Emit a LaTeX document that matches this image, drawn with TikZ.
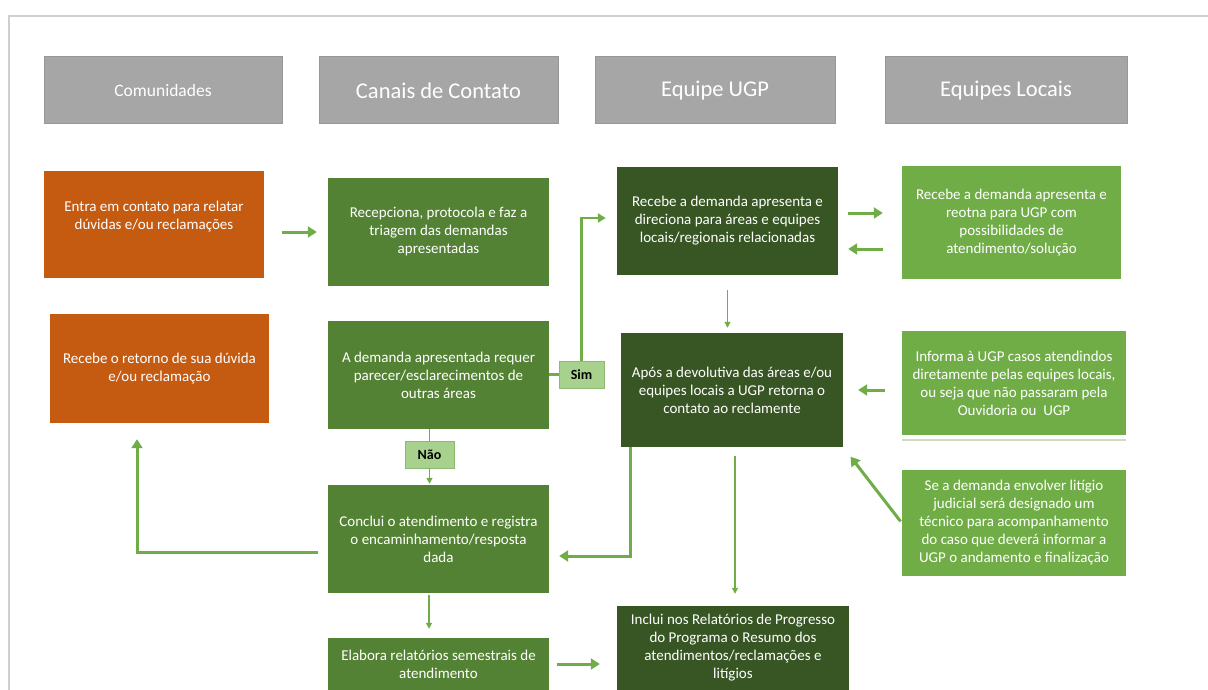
\documentclass[tikz,border=0pt]{standalone}
\usepackage{fontspec}
\setmainfont{Carlito}
\usetikzlibrary{arrows.meta}
\definecolor{orng}{HTML}{C55A11}
\definecolor{midg}{HTML}{548235}
\definecolor{darkg}{HTML}{375623}
\definecolor{lightg}{HTML}{70AD47}
\definecolor{arrg}{HTML}{70AD47}
\definecolor{hgray}{HTML}{A6A6A6}
\definecolor{hgrayd}{HTML}{979797}
\definecolor{lblg}{HTML}{A9D18E}
\definecolor{lblgd}{HTML}{8DB971}
\definecolor{framec}{HTML}{CFCFCF}
\definecolor{shadowc}{HTML}{CCDDC2}
\newcommand\boxfont{\fontsize{15}{18}\selectfont}
\newcommand\hdrbig{\fontsize{22.5}{26}\selectfont}
\newcommand\hdrsmall{\fontsize{17.5}{21}\selectfont}
\tikzset{
  box/.style={rectangle, text=white, align=center, font=\boxfont, inner sep=2pt},
  txt/.style={text=white, align=center, font=\boxfont, inner sep=0pt},
  hdr/.style={rectangle, fill=hgray, draw=hgrayd, line width=1pt, text=white, minimum height=67, font=\hdrbig},
  lbl/.style={rectangle, fill=lblg, draw=lblgd, line width=0.8pt, text=black, font=\fontsize{14}{16}\selectfont\bfseries},
  arr/.style={draw=arrg, line width=3pt, -{Triangle[length=9pt,width=11pt]}},
  marr/.style={draw=arrg, line width=2.2pt, -{Triangle[length=8pt,width=9pt]}},
  tarr/.style={draw=arrg, line width=1.5pt, -{Triangle[length=6pt,width=6pt]}},
  tline/.style={draw=arrg, line width=1.5pt},
  mline/.style={draw=arrg, line width=2.2pt},
}
\begin{document}
\begin{tikzpicture}[x=1pt,y=-1pt]
\useasboundingbox (0,0) rectangle (1208,690);
\fill[white] (0,0) rectangle (1208,690);
\draw[framec, line width=1.2pt] (9,690) -- (9,16) -- (1208,16);

% headers
\node[hdr, minimum width=238, font=\hdrsmall] (hC) at (163,90.5) {Comunidades};
\node[hdr, minimum width=239] (hK) at (438.5,90.5) {Canais de Contato};
\node[hdr, minimum width=240] (hU) at (715,90.5) {Equipe UGP};
\node[hdr, minimum width=242] (hL) at (1006,90.5) {Equipes Locais};

% column 1
\node[box, fill=orng, minimum width=220, minimum height=107] (o1) at (154,224.5) {};
\node[txt] (o1t) at (154,217) {Entra em contato para relatar\\dúvidas e/ou reclamações};
\node[box, fill=orng, minimum width=219, minimum height=109] (o2) at (159.5,368.5) {Recebe o retorno de sua dúvida\\e/ou reclamação};

% column 2
\node[box, fill=midg, minimum width=221, minimum height=108] (g1) at (438.5,232) {Recepciona, protocola e faz a\\triagem das demandas\\apresentadas};
\node[box, fill=midg, minimum width=221, minimum height=108] (g2) at (438.5,375) {A demanda apresentada requer\\parecer/esclarecimentos de\\outras áreas};
\node[box, fill=midg, minimum width=221, minimum height=108] (g3) at (438.5,539) {Conclui o atendimento e registra\\o encaminhamento/resposta\\dada};
\node[box, fill=midg, minimum width=221, minimum height=52] (g4) at (438.5,664) {Elabora relatórios semestrais de\\atendimento};

% column 3
\node[box, fill=darkg, minimum width=221, minimum height=108] (dg1) at (727.5,221) {Recebe a demanda apresenta e\\direciona para áreas e equipes\\locais/regionais relacionadas};
\node[box, fill=darkg, minimum width=222, minimum height=114] (dg2) at (732,390) {Após a devolutiva das áreas e/ou\\equipes locais a UGP retorna o\\contato ao reclamente};
\node[box, fill=darkg, minimum width=232, minimum height=84] (dg3) at (733,648) {Inclui nos Relatórios de Progresso\\do Programa o Resumo dos\\atendimentos/reclamações e\\litígios};

% column 4
\node[box, fill=lightg, minimum width=219, minimum height=113] (lg1) at (1011.5,222.5) {Recebe a demanda apresenta e\\reotna para UGP com\\possibilidades de\\atendimento/solução};
\node[box, fill=lightg, minimum width=224, minimum height=104] (lg2) at (1014,383) {Informa à UGP casos atendindos\\diretamente pelas equipes locais,\\ou seja que não passaram pela\\Ouvidoria ou\ \ UGP};
\draw[shadowc, line width=1.5pt] ([yshift=-5pt]lg2.south west) -- ([yshift=-5pt]lg2.south east);
\node[box, fill=lightg, minimum width=224, minimum height=106] (lg3) at (1014,523) {Se a demanda envolver litígio\\judicial será designado um\\técnico para acompanhamento\\do caso que deverá informar a\\UGP o andamento e finalização};

% labels
\node[lbl, minimum width=45, minimum height=27] (sim) at (581.5,374.5) {Sim};
\node[lbl, minimum width=49, minimum height=27] (nao) at (429.5,454.5) {Não};

% connectors
\draw[arr, shorten <=18pt, shorten >=11pt] (o1.east |- g1.west) -- (g1.west);
\draw[mline] (g2.east |- sim.west) -- (sim.west);
\draw[marr, shorten >=11pt] (sim.north) |- ([yshift=3pt]dg1.west);
\draw[tline] ([xshift=-9pt]g2.south) -- (nao.north);
\draw[tarr, shorten >=1pt] (nao.south) -- (nao.south |- g3.north);
\draw[arr, shorten <=10pt, shorten >=19pt] ([yshift=8pt]dg1.east) -- ([yshift=8pt]dg1.east -| lg1.west);
\draw[arr, shorten <=19pt, shorten >=10pt] ([yshift=-28pt]dg1.east -| lg1.west) -- ([yshift=-28pt]dg1.east);
\draw[tarr, shorten <=15pt, shorten >=5pt] (dg1.south) -- (dg1.south |- dg2.north);
\draw[arr, shorten <=17pt, shorten >=15pt] (lg2.west |- dg2.east) -- (dg2.east);
\draw[arr, shorten <=2pt, shorten >=12pt] (lg3.west) -- (dg2.south east);
\draw[arr, shorten >=10pt] ([xshift=10pt]dg2.south west) |- ([yshift=-17pt]g3.east);
\draw[tarr, shorten <=9pt, shorten >=12pt] ([xshift=3pt]dg2.south) -- ([xshift=3pt]dg2.south |- dg3.north);
\draw[arr, shorten <=10pt, shorten >=16pt] ([yshift=-13pt]g3.west) -| ([xshift=-22.5pt]o2.south);
\draw[tarr, shorten <=2pt, shorten >=9pt] ([xshift=-9.5pt]g3.south) -- ([xshift=-9.5pt]g3.south |- g4.north);
\draw[arr, shorten <=8pt, shorten >=17pt] (g4.east) -- (g4.east -| dg3.west);
\end{tikzpicture}
\end{document}
